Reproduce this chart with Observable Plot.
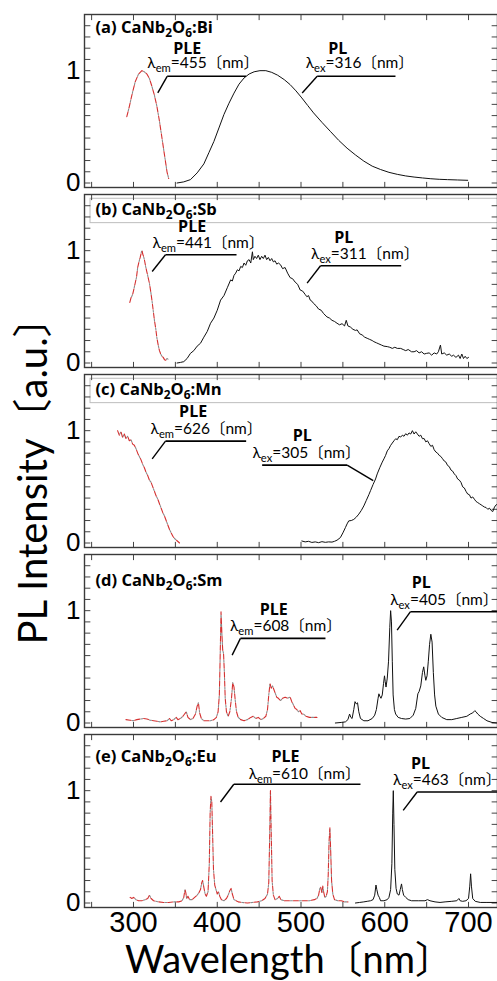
<!DOCTYPE html>
<html>
<head>
<meta charset="utf-8">
<script src="https://cdn.jsdelivr.net/npm/d3@7"></script>
<script src="https://cdn.jsdelivr.net/npm/@observablehq/plot@0.6"></script>
<style>
  html, body { margin: 0; padding: 0; background: #fff; }
  #chart { width: 497px; height: 981px; }
</style>
</head>
<body>
<div id="chart"></div>
<script>
// ---------- categories & labels ----------
const panels = ["a", "b", "c", "d", "e"];
const panelLabels = ["(a) CaNb_{2}O_{6}:Bi", "(b) CaNb_{2}O_{6}:Sb", "(c) CaNb_{2}O_{6}:Mn", "(d) CaNb_{2}O_{6}:Sm", "(e) CaNb_{2}O_{6}:Eu"];
const boxedPanels = ["b", "c"];
const xTickLabels = [300, 400, 500, 600, 700];
const xMinorTicks = [250, 300, 350, 400, 450, 500, 550, 600, 650, 700];
const yTickLabels = [0, 1];
const yMinorTicks = [0, 0.1, 0.2, 0.3, 0.4, 0.5, 0.6, 0.7, 0.8, 0.9, 1.0, 1.1, 1.2, 1.3, 1.4];
const xTitle = "Wavelength〔nm〕";
const yTitle = "PL Intensity〔a.u.〕";

// ---------- series: [wavelength nm, normalized intensity] ----------
const bi_PLE = [[292,0.59],[295,0.68],[298,0.78],[302,0.90],[306,0.97],[310,1.0],[313,0.99],[316,0.97],[319,0.93],[322,0.86],[325,0.78],[328,0.68],[331,0.55],[334,0.40],[337,0.25],[340,0.10],[342,0.04]];
const bi_PL = [[352,0.0],[360,0.01],[368,0.03],[376,0.09],[384,0.17],[390,0.27],[396,0.37],[402,0.49],[408,0.61],[414,0.71],[420,0.80],[426,0.88],[432,0.935],[438,0.97],[444,0.99],[451,1.0],[458,1.0],[465,0.985],[472,0.96],[480,0.92],[487,0.876],[494,0.82],[501,0.757],[508,0.69],[515,0.624],[525,0.54],[535,0.46],[545,0.38],[555,0.31],[565,0.25],[575,0.195],[585,0.15],[595,0.12],[605,0.095],[615,0.077],[625,0.063],[635,0.053],[645,0.045],[655,0.038],[665,0.033],[675,0.03],[687,0.027],[699,0.024]];

const sb_PLE = [[295.6,0.54],[297,0.58],[299,0.61],[300.5,0.66],[302,0.71],[303.5,0.76],[305,0.85],[306.5,0.90],[308,0.94],[309.5,0.99],[310.3,1.0],[311,0.97],[312,0.95],[313,0.92],[314.5,0.86],[316,0.81],[317.5,0.76],[319,0.71],[320.5,0.64],[322,0.56],[323.5,0.47],[325,0.38],[326.5,0.31],[328,0.22],[329.5,0.16],[331,0.11],[332.5,0.08],[334,0.06],[335.5,0.05],[337,0.03],[338.5,0.025],[340,0.04],[342,0.03]];
const sb_PL = [[352,0.0],[356,0.005],[360,0.012],[364,0.04],[368,0.086],[372,0.11],[376,0.15],[380,0.176],[384,0.23],[388,0.28],[392,0.354],[396,0.40],[400,0.47],[404,0.56],[408,0.60],[412,0.67],[416,0.74],[418,0.73],[420,0.78],[422,0.80],[424,0.83],[426,0.82],[428,0.86],[430,0.85],[432,0.89],[434,0.87],[436,0.91],[438,0.92],[440,0.89],[442,0.99],[443,0.92],[445,0.95],[447,0.93],[449,0.96],[451,0.92],[453,0.95],[455,0.93],[457,0.96],[459,0.92],[461,0.94],[463,0.91],[465,0.93],[467,0.90],[469,0.91],[471,0.88],[473,0.89],[475.5,0.875],[478,0.84],[481,0.85],[484,0.80],[487,0.76],[490,0.75],[493,0.72],[496,0.70],[499,0.65],[502,0.64],[505,0.61],[507,0.59],[509,0.60],[511,0.56],[513,0.55],[515,0.53],[518,0.51],[521,0.48],[524,0.47],[527,0.44],[531,0.41],[534,0.40],[537,0.38],[540,0.37],[543,0.354],[546,0.34],[549,0.35],[552,0.33],[554,0.38],[556,0.33],[559,0.32],[562,0.30],[565,0.29],[567,0.295],[570,0.26],[573,0.25],[576,0.23],[579,0.22],[582,0.21],[585,0.20],[587,0.19],[590,0.18],[593,0.17],[596,0.16],[599,0.15],[603,0.146],[606,0.14],[609,0.13],[612,0.14],[615,0.13],[619,0.13],[622,0.12],[625,0.11],[628,0.12],[632,0.10],[635,0.10],[638,0.11],[641,0.09],[644,0.10],[647,0.08],[650,0.086],[653,0.09],[656,0.07],[659,0.09],[662,0.08],[664,0.10],[666.5,0.16],[668,0.08],[671,0.09],[674,0.07],[677,0.08],[680,0.06],[682,0.07],[685,0.05],[688,0.07],[690,0.04],[692,0.08],[694,0.04],[696,0.06],[698,0.04],[700,0.05]];

const mn_PLE = [[281,1.0],[283,0.96],[285,0.99],[287,0.94],[289,0.97],[291,0.93],[293,0.95],[295,0.91],[297,0.92],[299,0.88],[301,0.87],[303,0.84],[305,0.80],[307,0.77],[309,0.74],[311,0.70],[313,0.67],[315,0.63],[317,0.60],[319,0.56],[321,0.54],[323,0.50],[325,0.46],[327,0.42],[329,0.39],[331,0.35],[333,0.31],[335,0.27],[337,0.24],[339,0.20],[341,0.16],[343,0.12],[345,0.09],[347,0.06],[349,0.04],[352,0.02],[355,0.0]];
const mn_PL = [[501,0.018],[505,0.01],[509,0.015],[513,0.005],[517,0.01],[521,0.003],[525,0.012],[529,0.006],[533,0.01],[537,0.008],[540,0.015],[543,0.025],[547,0.048],[550,0.09],[553,0.137],[555,0.17],[557,0.197],[560,0.20],[563,0.21],[566,0.23],[569,0.257],[572,0.29],[575,0.33],[578,0.38],[581,0.43],[583,0.466],[586,0.52],[589,0.57],[591,0.615],[594,0.67],[597,0.72],[599,0.749],[601,0.78],[603,0.82],[605,0.84],[607,0.869],[609,0.89],[611,0.91],[613,0.928],[615,0.92],[617,0.95],[619,0.943],[621,0.96],[623,0.95],[625,0.973],[627,0.96],[629,0.98],[631,0.97],[633,1.0],[635,0.97],[637,0.99],[639,0.97],[641,0.95],[643,0.96],[645,0.928],[647,0.93],[649,0.90],[651,0.91],[653,0.884],[655,0.86],[657,0.87],[659,0.83],[661,0.81],[663,0.80],[665,0.78],[667,0.77],[669,0.75],[671,0.73],[673,0.72],[675,0.69],[677,0.68],[679,0.65],[681,0.64],[683,0.615],[685,0.60],[687,0.57],[689,0.56],[691,0.54],[693,0.50],[695,0.49],[697,0.46],[699,0.436],[701,0.43],[703,0.40],[705,0.41],[707,0.39],[709,0.37],[711,0.36],[713,0.35],[715,0.34],[717,0.33],[719,0.32],[721,0.316],[723,0.30],[725,0.31],[727,0.29],[729,0.28],[731,0.32],[733,0.34],[734.5,0.346]];

const sm_PLE = [[291,0.03],[296,0.025],[300,0.02],[304,0.03],[308,0.035],[312,0.04],[316,0.035],[320,0.025],[324,0.02],[328,0.015],[332,0.01],[336,0.015],[340,0.02],[343,0.04],[345,0.02],[348,0.03],[351,0.05],[353,0.03],[356,0.04],[359,0.06],[361,0.08],[363,0.10],[365,0.05],[368,0.03],[371,0.04],[374,0.08],[376,0.15],[377.5,0.18],[379,0.09],[381,0.04],[384,0.02],[388,0.02],[392,0.02],[396,0.03],[399,0.05],[401,0.10],[402.5,0.25],[403.5,0.60],[404.5,0.99],[405.5,0.80],[406.5,0.65],[407.5,0.62],[408.5,0.45],[409.5,0.22],[411,0.10],[413,0.06],[415,0.10],[417,0.22],[418.5,0.36],[420,0.32],[421.5,0.20],[423,0.10],[425,0.05],[428,0.03],[432,0.02],[436,0.03],[440,0.05],[443,0.06],[446,0.04],[449,0.05],[452,0.03],[455,0.04],[458,0.06],[460,0.12],[461.5,0.25],[463,0.35],[464.5,0.31],[466,0.33],[467.5,0.30],[469,0.27],[471,0.23],[473,0.22],[475.5,0.20],[478,0.22],[481,0.23],[484,0.22],[487,0.23],[489,0.19],[491,0.16],[493,0.13],[495,0.12],[497,0.10],[499,0.11],[501,0.08],[503,0.08],[506,0.06],[510,0.05],[514,0.05],[519,0.05]];
const sm_PL = [[541,0.0],[548,0.005],[553,0.01],[556,0.03],[558,0.08],[559.5,0.05],[561,0.04],[563,0.12],[564.5,0.19],[566,0.17],[567.5,0.18],[569,0.10],[571,0.04],[575,0.02],[580,0.02],[585,0.04],[588,0.07],[590,0.12],[592,0.22],[593,0.26],[594,0.24],[595.5,0.22],[597,0.25],[598.5,0.35],[599.7,0.42],[600.5,0.37],[601.5,0.32],[603,0.40],[604.5,0.55],[606,0.85],[607,1.0],[608,0.90],[609,0.55],[610,0.25],[611.5,0.12],[613,0.08],[616,0.05],[620,0.04],[625,0.035],[630,0.04],[634,0.07],[637,0.13],[639.5,0.26],[641,0.28],[643,0.33],[645,0.45],[646.5,0.50],[648,0.42],[649,0.38],[650.5,0.42],[652,0.55],[653.5,0.70],[655,0.79],[656.5,0.72],[658,0.45],[659.5,0.25],[661,0.15],[664,0.08],[668,0.05],[674,0.03],[680,0.03],[686,0.04],[692,0.05],[698,0.06],[702,0.08],[705,0.09],[707.5,0.11],[709,0.10],[711,0.08],[714,0.06],[718,0.04],[722,0.02],[728,0.005],[735,0.0]];

const eu_PLE = [[296,0.05],[298,0.04],[300,0.05],[303,0.03],[306,0.02],[310,0.02],[314,0.03],[317,0.04],[319,0.07],[321,0.04],[324,0.02],[330,0.01],[336,0.005],[342,0.005],[348,0.01],[354,0.01],[358,0.02],[360,0.05],[361.5,0.12],[362.5,0.09],[363.5,0.04],[365,0.06],[367,0.03],[370,0.03],[373,0.05],[376,0.07],[378,0.09],[380,0.12],[381.5,0.18],[382.5,0.20],[384,0.14],[385.5,0.08],[387,0.06],[389,0.10],[390.5,0.35],[391.5,0.80],[392.5,0.95],[393.5,0.90],[394.5,0.60],[395.5,0.30],[397,0.16],[398.5,0.12],[400,0.08],[401.5,0.10],[403,0.06],[405,0.03],[408,0.02],[411,0.04],[413,0.07],[415,0.11],[416.5,0.13],[418,0.08],[420,0.03],[425,0.01],[430,0.005],[436,0.0],[442,0.005],[448,0.01],[453,0.02],[457,0.04],[460,0.08],[461.5,0.18],[462.5,0.55],[463.5,1.0],[464.5,0.60],[465.5,0.20],[467,0.07],[469,0.03],[472,0.04],[474,0.06],[476,0.03],[480,0.02],[486,0.02],[492,0.02],[498,0.02],[504,0.02],[510,0.02],[516,0.03],[519,0.04],[521,0.07],[522.5,0.13],[523.5,0.14],[525,0.09],[526,0.15],[527,0.10],[528.5,0.05],[530,0.06],[531.5,0.10],[532.5,0.25],[533.5,0.55],[534.5,0.67],[535.5,0.45],[536.5,0.20],[538,0.08],[540,0.03],[544,0.02],[548,0.02],[552,0.01],[556,0.01]];
const eu_PL = [[565,0.0],[570,0.005],[575,0.01],[579,0.015],[583,0.02],[586,0.03],[588,0.07],[589.5,0.16],[590.5,0.12],[592,0.07],[593.5,0.05],[595,0.02],[599,0.02],[603,0.03],[605,0.05],[607,0.12],[608.5,0.35],[609.5,0.80],[610.2,1.0],[611,0.70],[612,0.30],[613.5,0.13],[615,0.08],[617,0.07],[618.5,0.12],[620,0.17],[621,0.12],[622.5,0.07],[625,0.05],[628,0.03],[632,0.02],[640,0.02],[648,0.02],[651,0.03],[654,0.02],[660,0.01],[666,0.005],[672,0.01],[680,0.015],[686,0.02],[688.5,0.04],[690,0.02],[693,0.015],[697,0.02],[700,0.04],[701.5,0.15],[702.5,0.26],[703.5,0.15],[705,0.04],[708,0.015],[714,0.005],[722,0.005],[735,0.005]];

const pleSeries = [bi_PLE, sb_PLE, mn_PLE, sm_PLE, eu_PLE];
const plSeries = [bi_PL, sb_PL, mn_PL, sm_PL, eu_PL];

// ---------- callouts (data coordinates) ----------
const calloutTitles = ["PLE", "PL"];
const calloutLabels = [
  ["λ_{em}=455〔nm〕", "λ_{ex}=316〔nm〕"],
  ["λ_{em}=441〔nm〕", "λ_{ex}=311〔nm〕"],
  ["λ_{em}=626〔nm〕", "λ_{ex}=305〔nm〕"],
  ["λ_{em}=608〔nm〕", "λ_{ex}=405〔nm〕"],
  ["λ_{em}=610〔nm〕", "λ_{ex}=463〔nm〕"]
];
// [titleX, titleY, labelX, labelY, lineX1, lineX2, lineY, tipX, tipY, arrowFromRight]
const calloutGeom = [
  [[364.1,1.150,383.2,1.024,340.2,434.5,0.950,329.0,0.802,0],[544.0,1.150,570.2,1.024,519.3,612.8,0.950,501.4,0.802,0]],
  [[370.0,1.166,389.5,1.024,338.2,423.0,0.964,322.3,0.815,0],[551.1,1.071,576.6,0.929,523.3,619.6,0.866,507.3,0.711,0]],
  [[371.2,1.121,387.1,0.973,338.2,434.5,0.907,322.3,0.749,0],[501.4,0.907,506.6,0.758,453.6,555.1,0.693,586.2,0.555,1]],
  [[467.5,0.963,481.9,0.818,427.7,529.2,0.753,417.8,0.604,0],[643.5,1.198,671.0,1.051,630.7,740.0,0.991,614.8,0.827,0]],
  [[481.5,1.258,504.2,1.107,419.8,571.0,1.057,403.9,0.899,0],[642.7,1.196,674.5,1.048,638.7,740.0,0.988,622.0,0.824,0]]
];

// ---------- build tables ----------
const rows = [];
panels.forEach((p, i) => {
  pleSeries[i].forEach(([x, y]) => rows.push({panel: p, kind: "PLE", x, y}));
  plSeries[i].forEach(([x, y]) => rows.push({panel: p, kind: "PL", x, y}));
});
const pleRows = rows.filter(d => d.kind === "PLE");
const plRows = rows.filter(d => d.kind === "PL");

const callouts = [];
panels.forEach((p, i) => {
  calloutGeom[i].forEach((g, j) => {
    callouts.push({panel: p, title: calloutTitles[j], label: calloutLabels[i][j],
      tx: g[0], ty: g[1], lx: g[2], ly: g[3], x1: g[4], x2: g[5], yl: g[6],
      ax: g[9] ? g[5] : g[4], tipX: g[7], tipY: g[8]});
  });
});

const labelPos = [[254.6, 1.335], [254.6, 1.318], [254.6, 1.32], [254.6, 1.224], [254.6, 1.253]];
const labelRows = panels.map((p, i) => ({panel: p, text: panelLabels[i], x: labelPos[i][0], y: labelPos[i][1]}));
const boxRows = boxedPanels.map(p => ({panel: p}));

const xDomain = [241.5, 734.6];
const yDomain = [-0.04, 1.5];
const tickLenY = 0.05;   // inward tick length in y units
const tickLenX = 7;      // inward tick length in nm

const textFont = "Lato, 'Noto Sans', 'Noto Sans CJK JP', sans-serif";
const boldFont = "'Open Sans', 'Noto Sans', sans-serif";
const numFont = "'Liberation Sans', Arial, sans-serif";

const chart = Plot.plot({
  width: 497,
  height: 981,
  marginLeft: 84,
  marginRight: 0,
  marginTop: 13,
  marginBottom: 73,
  style: {fontFamily: textFont, background: "#fff", overflow: "visible"},
  x: {domain: xDomain},
  y: {domain: yDomain},
  fy: {domain: panels, paddingInner: 0.04, paddingOuter: 0, axis: null},
  marks: [
    Plot.rect(boxRows, {fy: "panel", x1: 248.7, x2: 760, y1: 1.462, y2: 1.245, fill: "#fff", stroke: "#bdbdbd", strokeWidth: 1}),
    // inward ticks
    Plot.link(xMinorTicks, {x1: d => d, x2: d => d, y1: yDomain[0], y2: yDomain[0] + tickLenY, stroke: "#444", strokeWidth: 1}),
    Plot.link(xMinorTicks, {x1: d => d, x2: d => d, y1: yDomain[1], y2: yDomain[1] - tickLenY, stroke: "#444", strokeWidth: 1}),
    Plot.link(yMinorTicks, {y1: d => d, y2: d => d, x1: xDomain[0], x2: xDomain[0] + tickLenX, stroke: "#444", strokeWidth: 1}),
    Plot.link(yMinorTicks, {y1: d => d, y2: d => d, x1: xDomain[1], x2: xDomain[1] - tickLenX, stroke: "#444", strokeWidth: 1}),
    // spectra
    Plot.line(plRows, {fy: "panel", x: "x", y: "y", z: "panel", stroke: "#111", strokeWidth: 1}),
    Plot.line(pleRows, {fy: "panel", x: "x", y: "y", z: "panel", stroke: "#8a8a8a", strokeWidth: 1.1, strokeDasharray: "2 7", strokeDashoffset: 3}),
    Plot.line(pleRows, {fy: "panel", x: "x", y: "y", z: "panel", stroke: "#d43131", strokeWidth: 1.1, strokeDasharray: "5 4"}),
    Plot.frame({stroke: "#3a3a3a", strokeWidth: 1.4}),
    // axes
    Plot.axisY({ticks: yTickLabels, tickFormat: d => String(d), tickSize: 0, tickPadding: 4, fontSize: 26, fontFamily: numFont, label: null, fill: "#000"}),
    Plot.axisX({ticks: xTickLabels, tickFormat: d => String(d), tickSize: 0, tickPadding: 4, fontSize: 29, fontFamily: numFont, label: null, fill: "#000"}),
    // panel labels
    Plot.text(labelRows, {fy: "panel", x: "x", y: "y", text: "text", textAnchor: "start", lineAnchor: "bottom", fontSize: 16.5, fontWeight: "bold", fontFamily: boldFont, fill: "#000"}),
    // callouts
    Plot.link(callouts, {fy: "panel", x1: "x1", x2: "x2", y1: "yl", y2: "yl", stroke: "#000", strokeWidth: 1.6}),
    Plot.link(callouts, {fy: "panel", x1: "ax", y1: "yl", x2: "tipX", y2: "tipY", stroke: "#000", strokeWidth: 1.4, ariaLabel: "callout-arrow"}),
    Plot.text(callouts, {fy: "panel", x: "tx", y: "ty", text: "title", lineAnchor: "bottom", fontSize: 16, fontWeight: "bold", fontFamily: boldFont, fill: "#000"}),
    Plot.text(callouts, {fy: "panel", x: "lx", y: "ly", text: "label", lineAnchor: "bottom", fontSize: 15.5, fill: "#000"})
  ]
});

document.getElementById("chart").appendChild(chart);

// ---------- post-processing: subscripts, arrowheads, axis titles ----------
const svg = d3.select(chart.tagName.toLowerCase() === "svg" ? chart : chart.querySelector("svg"));

svg.selectAll("text").each(function() {
  const t = this.textContent;
  if (!t || t.indexOf("_{") < 0) return;
  const fs = parseFloat(getComputedStyle(this).fontSize) || 16;
  const sel = d3.select(this);
  sel.text(null);
  const parts = t.split(/(_\{[^}]*\})/);
  let shifted = false;
  parts.forEach(part => {
    if (!part) return;
    if (part.startsWith("_{")) {
      sel.append("tspan").attr("dy", (0.25 * fs).toFixed(2)).attr("font-size", (0.72 * fs).toFixed(2)).text(part.slice(2, -1));
      shifted = true;
    } else {
      const ts = sel.append("tspan").text(part);
      if (shifted) { ts.attr("dy", (-0.25 * fs).toFixed(2)); shifted = false; }
    }
  });
});

const defs = svg.append("defs");
defs.append("marker").attr("id", "callout-head").attr("viewBox", "0 0 10 10")
  .attr("refX", 9).attr("refY", 5).attr("markerWidth", 8).attr("markerHeight", 7)
  .attr("markerUnits", "userSpaceOnUse").attr("orient", "auto")
  .append("path").attr("d", "M0,0.5 L10,5 L0,9.5 Z").attr("fill", "#000");
svg.selectAll('g[aria-label="callout-arrow"] path').attr("marker-end", "url(#callout-head)");

svg.append("text").attr("transform", "translate(47,471) rotate(-90)")
  .attr("text-anchor", "middle").attr("font-size", 40).attr("font-family", textFont).attr("fill", "#000").text(yTitle);
svg.append("text").attr("x", 289).attr("y", 973)
  .attr("text-anchor", "middle").attr("font-size", 38).attr("font-family", textFont).attr("fill", "#000").text(xTitle);
</script>
</body>
</html>
